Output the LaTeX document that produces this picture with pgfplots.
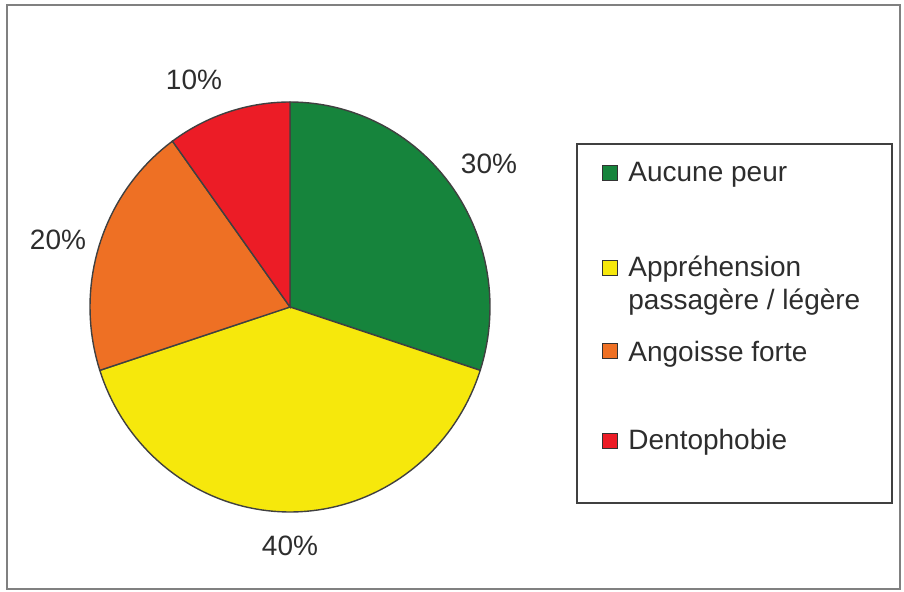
\documentclass[border=0pt]{standalone}
\usepackage{pgfplots}
\pgfplotsset{compat=1.18}
\usepackage{fontspec}
\setmainfont{Liberation Sans}
\definecolor{cgreen}{RGB}{22,132,60}
\definecolor{cyellow}{RGB}{246,232,12}
\definecolor{corange}{RGB}{238,112,36}
\definecolor{cred}{RGB}{236,28,38}
\definecolor{txt}{RGB}{45,45,45}
\begin{document}
\begin{tikzpicture}
% values (percent)
\def\vA{30}\def\vB{40}\def\vC{20}\def\vD{10}
\pgfmathsetmacro{\aA}{90-3.6*\vA}      % green: aA..90
\pgfmathsetmacro{\aB}{\aA-3.6*\vB}     % yellow: aB..aA
\pgfmathsetmacro{\aC}{\aB-3.6*\vC}     % orange: aC..aB
\pgfmathsetmacro{\aD}{\aC-3.6*\vD}     % red: aD..aC
\begin{axis}[
  width=452pt, height=296pt, scale only axis,
  xmin=0, xmax=904, ymin=0, ymax=592, y dir=reverse,
  hide axis, clip=false,
  font=\fontsize{14}{16.8}\selectfont,
]
\path (axis cs:0,0) rectangle (axis cs:904,592);
\draw[black!50, line width=0.8pt] (axis cs:7,5) rectangle (axis cs:900,589);
% pie wedges
\addplot[draw=black!75, line width=0.7pt, fill=cgreen, domain=\aA:90, samples=60, variable=\t]
  ({290+200*cos(t)},{307-205*sin(t)}) -- (axis cs:290,307) -- cycle;
\addplot[draw=black!75, line width=0.7pt, fill=cyellow, domain=\aB:\aA, samples=80, variable=\t]
  ({290+200*cos(t)},{307-205*sin(t)}) -- (axis cs:290,307) -- cycle;
\addplot[draw=black!75, line width=0.7pt, fill=corange, domain=\aC:\aB, samples=40, variable=\t]
  ({290+200*cos(t)},{307-205*sin(t)}) -- (axis cs:290,307) -- cycle;
\addplot[draw=black!75, line width=0.7pt, fill=cred, domain=\aD:\aC, samples=30, variable=\t]
  ({290+200*cos(t)},{307-205*sin(t)}) -- (axis cs:290,307) -- cycle;
% percentage labels
\node[txt] at (axis cs:489,164) {30\%};
\node[txt] at (axis cs:290,546) {40\%};
\node[txt] at (axis cs:58,240) {20\%};
\node[txt] at (axis cs:194,80) {10\%};
% legend
\draw[black!75, line width=0.9pt] (axis cs:577,144) rectangle (axis cs:892,503);
\node[draw=black!80, fill=cgreen, minimum size=7.5pt, inner sep=0pt, line width=0.5pt] at (axis cs:610,173) {};
\node[draw=black!80, fill=cyellow, minimum size=7.5pt, inner sep=0pt, line width=0.5pt] at (axis cs:610,268) {};
\node[draw=black!80, fill=corange, minimum size=7.5pt, inner sep=0pt, line width=0.5pt] at (axis cs:610,351) {};
\node[draw=black!80, fill=cred, minimum size=7.5pt, inner sep=0pt, line width=0.5pt] at (axis cs:610,441) {};
\node[txt, anchor=base west, inner sep=0pt] at (axis cs:628,182) {Aucune peur};
\node[txt, anchor=base west, inner sep=0pt] at (axis cs:628,277) {Appréhension};
\node[txt, anchor=base west, inner sep=0pt] at (axis cs:628,310) {passagère / légère};
\node[txt, anchor=base west, inner sep=0pt] at (axis cs:628,362) {Angoisse forte};
\node[txt, anchor=base west, inner sep=0pt] at (axis cs:628,450) {Dentophobie};
\end{axis}
\end{tikzpicture}
\end{document}
